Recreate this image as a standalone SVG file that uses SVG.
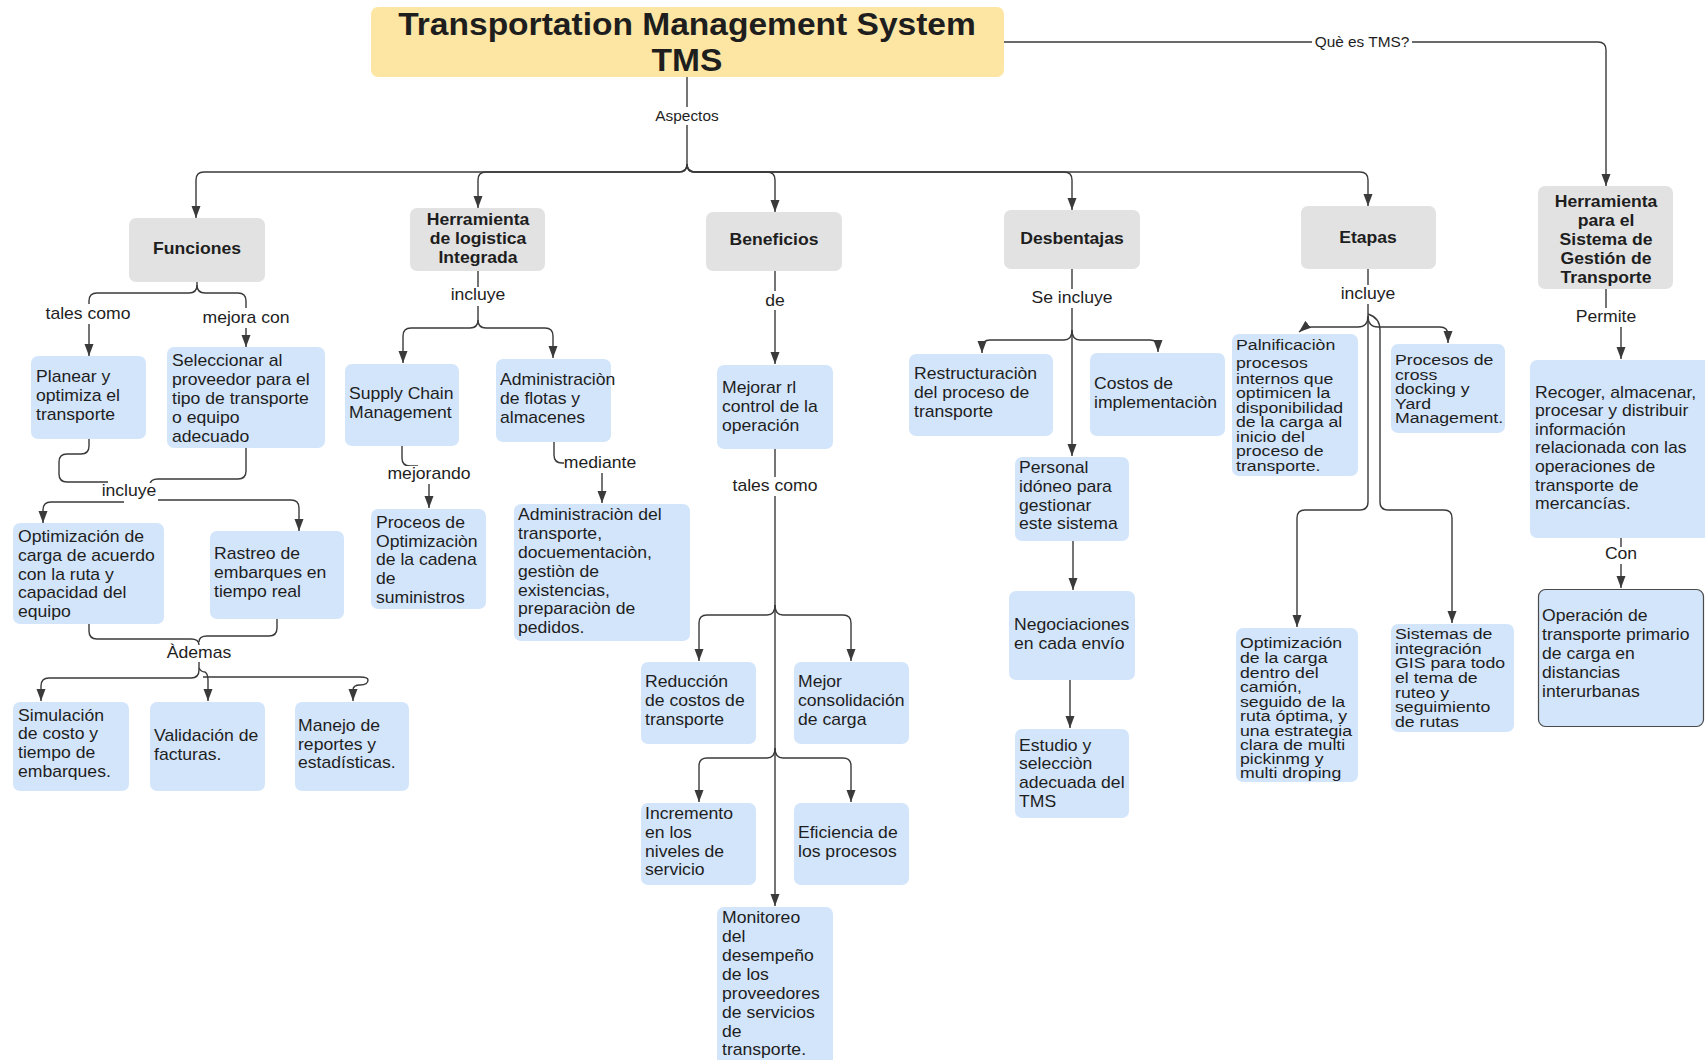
<svg xmlns="http://www.w3.org/2000/svg" width="1705" height="1060" viewBox="0 0 1705 1060">
  <defs>
    <marker id="arr" markerUnits="userSpaceOnUse" markerWidth="12" markerHeight="10" refX="12" refY="5" orient="auto">
      <path d="M0,0.5 L12,5 L0,9.5 z" fill="#3a3a3a"/>
    </marker>
    <style>
      .c { fill: none; stroke: #3a3a3a; stroke-width: 1.4; }
      .ca { fill: none; stroke: #3a3a3a; stroke-width: 1.4; marker-end: url(#arr); }
      .lb { fill: #ffffff; }
      .t { font-family: "Liberation Sans", Arial, sans-serif; font-size: 16px; fill: #1e1e1e; }
      .tt { font-family: "Liberation Sans", Arial, sans-serif; font-size: 15px; fill: #1e1e1e; }
      .ts { font-family: "Liberation Sans", Arial, sans-serif; font-size: 14px; fill: #1e1e1e; text-anchor: middle; }
      .tl { font-family: "Liberation Sans", Arial, sans-serif; font-size: 16px; fill: #1e1e1e; text-anchor: middle; }
      .tb { font-family: "Liberation Sans", Arial, sans-serif; font-size: 16px; font-weight: bold; fill: #1e1e1e; text-anchor: middle; }
      .title { font-family: "Liberation Sans", Arial, sans-serif; font-size: 30.5px; font-weight: bold; fill: #1e1e1e; text-anchor: middle; }
      .gray { fill: #e2e2e2; }
      .blue { fill: #d3e5fb; }
      .yellow { fill: #fde6a4; }
    </style>
  </defs>
  <rect width="1705" height="1060" fill="#ffffff"/>

  <!-- connectors -->
  <g id="connectors">
    <!-- main trunk to the five aspects -->
    <path class="c" d="M687,77 V164"/>
    <path class="ca" d="M687,164 Q687,172 679,172 H204 Q196,172 196,180 V218"/>
    <path class="ca" d="M687,164 Q687,172 679,172 H486 Q478,172 478,180 V208"/>
    <path class="ca" d="M687,164 Q687,172 695,172 H767 Q775,172 775,180 V212"/>
    <path class="ca" d="M687,164 Q687,172 695,172 H1064 Q1072,172 1072,180 V210"/>
    <path class="ca" d="M687,164 Q687,172 695,172 H1360 Q1368,172 1368,180 V206"/>
    <path class="ca" d="M1004,42 H1598 Q1606,42 1606,50 V186"/>

    <!-- Funciones -->
    <path class="ca" d="M197,282 V285 Q197,293 189,293 H97 Q89,293 89,301 V356"/>
    <path class="ca" d="M197,285 Q197,293 205,293 H238 Q246,293 246,301 V347"/>
    <path class="c" d="M89,439 V446 Q89,454 81,454 H67 Q59,454 59,462 V474 Q59,482 67,482 H108"/>
    <path class="c" d="M246,448 V471 Q246,479 238,479 H158 Q150,479 150,485"/>
    <path class="ca" d="M124,502 H51 Q43,502 43,510 V523"/>
    <path class="ca" d="M158,500 H291 Q299,500 299,508 V531"/>
    <path class="c" d="M89,624 V631 Q89,639 97,639 H191 Q199,639 199,645"/>
    <path class="c" d="M277,619 V628 Q277,636 269,636 H207 Q199,636 199,642"/>
    <path class="ca" d="M199,661 V670 Q199,678 191,678 H49 Q41,678 41,686 V701"/>
    <path class="ca" d="M199,668 Q201,672 205,672 Q208,674 208,680 V701"/>
    <path class="ca" d="M203,677 H360 Q368,677 368,680 Q368,685 360,685 Q353,685 353,690 V701"/>

    <!-- Herramienta de logistica -->
    <path class="ca" d="M478,271 V320 Q478,328 470,328 H411 Q403,328 403,336 V363"/>
    <path class="ca" d="M478,320 Q478,328 486,328 H545 Q553,328 553,336 V358"/>
    <path class="c" d="M402,446 V458 Q402,466 410,466 H418"/>
    <path class="ca" d="M429,484 V508"/>
    <path class="c" d="M554,442 V455 Q554,463 562,463 H568"/>
    <path class="ca" d="M602,473 V503"/>

    <!-- Beneficios -->
    <path class="ca" d="M775,271 V364"/>
    <path class="ca" d="M775,449 V906"/>
    <path class="ca" d="M775,605 Q775,615 767,615 H707 Q699,615 699,623 V661"/>
    <path class="ca" d="M775,605 Q775,615 783,615 H843 Q851,615 851,623 V661"/>
    <path class="ca" d="M775,748 Q775,758 767,758 H707 Q699,758 699,766 V802"/>
    <path class="ca" d="M775,748 Q775,758 783,758 H843 Q851,758 851,766 V802"/>

    <!-- Desbentajas -->
    <path class="ca" d="M1072,269 V456"/>
    <path class="ca" d="M1072,330 Q1072,340 1064,340 H990 Q982,340 982,348 V353"/>
    <path class="ca" d="M1072,330 Q1072,340 1080,340 H1150 Q1158,340 1158,348 V352"/>
    <path class="ca" d="M1073,541 V590"/>
    <path class="ca" d="M1070,680 V728"/>

    <!-- Etapas -->
    <path class="ca" d="M1368,269 V502 Q1368,510 1360,510 H1305 Q1297,510 1297,518 V627"/>
    <path class="ca" d="M1368,316 Q1368,327 1358,327 H1312 Q1305,327 1299,332"/>
    <path class="ca" d="M1368,316 Q1368,327 1378,327 H1440 Q1448,327 1448,335 V343"/>
    <path class="ca" d="M1368,314 Q1380,318 1380,330 V502 Q1380,510 1388,510 H1444 Q1452,510 1452,518 V623"/>

    <!-- Herramienta para el Sistema -->
    <path class="c" d="M1606,289 V310"/>
    <path class="ca" d="M1621,327 V359"/>
    <path class="c" d="M1621,538 V548"/>
    <path class="ca" d="M1621,564 V588"/>

    <!-- connector labels -->
    <g id="connector-labels">
      <rect class="lb" x="653" y="107" width="68" height="18"/>
      <text class="ts" transform="matrix(1.1 0 0 1 687 0)" y="121">Aspectos</text>
      <rect class="lb" x="1312" y="33" width="100" height="18"/>
      <text class="ts" transform="matrix(1.1 0 0 1 1362 0)" y="47">Què es TMS?</text>

      <rect class="lb" x="44" y="304" width="89" height="20"/>
      <text class="tl" transform="matrix(1.1 0 0 1 88 0)" y="319">tales como</text>
      <rect class="lb" x="201" y="308" width="91" height="20"/>
      <text class="tl" transform="matrix(1.1 0 0 1 246 0)" y="323">mejora con</text>
      <rect class="lb" x="100" y="483" width="58" height="16"/>
      <text class="tl" transform="matrix(1.1 0 0 1 129 0)" y="496">incluye</text>
      <rect class="lb" x="166" y="645" width="67" height="17"/>
      <text class="tl" transform="matrix(1.1 0 0 1 199 0)" y="658">Àdemas</text>

      <rect class="lb" x="449" y="287" width="58" height="19"/>
      <text class="tl" transform="matrix(1.1 0 0 1 478 0)" y="300">incluye</text>
      <rect class="lb" x="386" y="466" width="86" height="18"/>
      <text class="tl" transform="matrix(1.1 0 0 1 429 0)" y="479">mejorando</text>
      <rect class="lb" x="564" y="455" width="75" height="18"/>
      <text class="tl" transform="matrix(1.1 0 0 1 600 0)" y="468">mediante</text>

      <rect class="lb" x="763" y="291" width="24" height="19"/>
      <text class="tl" transform="matrix(1.1 0 0 1 775 0)" y="306">de</text>
      <rect class="lb" x="731" y="477" width="88" height="19"/>
      <text class="tl" transform="matrix(1.1 0 0 1 775 0)" y="491">tales como</text>

      <rect class="lb" x="1030" y="289" width="84" height="19"/>
      <text class="tl" transform="matrix(1.1 0 0 1 1072 0)" y="303">Se incluye</text>
      <rect class="lb" x="1339" y="285" width="58" height="19"/>
      <text class="tl" transform="matrix(1.1 0 0 1 1368 0)" y="299">incluye</text>

      <rect class="lb" x="1574" y="308" width="64" height="18"/>
      <text class="tl" transform="matrix(1.1 0 0 1 1606 0)" y="322">Permite</text>
      <rect class="lb" x="1603" y="547" width="36" height="17"/>
      <text class="tl" transform="matrix(1.1 0 0 1 1621 0)" y="559">Con</text>
    </g>
  </g>

  <!-- root -->
  <g id="tms">
    <rect class="yellow" x="371" y="7" width="633" height="70" rx="7"/>
    <text class="title" transform="matrix(1.1 0 0 1 687 0)"><tspan x="0" y="35">Transportation Management System</tspan><tspan x="0" y="71">TMS</tspan></text>
  </g>

  <!-- aspects -->
  <g id="funciones">
    <rect class="gray" x="129" y="218" width="136" height="64" rx="7"/>
    <text class="tb" transform="matrix(1.1 0 0 1 197 0)" y="254">Funciones</text>
  </g>
  <g id="herramienta-logistica">
    <rect class="gray" x="410" y="208" width="135" height="63" rx="7"/>
    <text class="tb" transform="matrix(1.1 0 0 1 478 0)"><tspan x="0" y="225">Herramienta</tspan><tspan x="0" y="244">de logistica</tspan><tspan x="0" y="263">Integrada</tspan></text>
  </g>
  <g id="beneficios">
    <rect class="gray" x="706" y="212" width="136" height="59" rx="7"/>
    <text class="tb" transform="matrix(1.1 0 0 1 774 0)" y="245">Beneficios</text>
  </g>
  <g id="desbentajas">
    <rect class="gray" x="1004" y="210" width="136" height="59" rx="7"/>
    <text class="tb" transform="matrix(1.1 0 0 1 1072 0)" y="244">Desbentajas</text>
  </g>
  <g id="etapas">
    <rect class="gray" x="1301" y="206" width="135" height="63" rx="7"/>
    <text class="tb" transform="matrix(1.1 0 0 1 1368 0)" y="243">Etapas</text>
  </g>
  <g id="herramienta-sistema">
    <rect class="gray" x="1538" y="186" width="135" height="103" rx="7"/>
    <text class="tb" transform="matrix(1.1 0 0 1 1606 0)"><tspan x="0" y="207">Herramienta</tspan><tspan x="0" y="226">para el</tspan><tspan x="0" y="245">Sistema de</tspan><tspan x="0" y="264">Gestión de</tspan><tspan x="0" y="283">Transporte</tspan></text>
  </g>

  <!-- Funciones branch -->
  <g id="planear">
    <rect class="blue" x="31" y="356" width="115" height="83" rx="7"/>
    <text class="t" transform="matrix(1.1 0 0 1 36 0)"><tspan x="0" y="382">Planear y</tspan><tspan x="0" y="401">optimiza el</tspan><tspan x="0" y="420">transporte</tspan></text>
  </g>
  <g id="seleccionar">
    <rect class="blue" x="167" y="347" width="158" height="101" rx="7"/>
    <text class="t" transform="matrix(1.1 0 0 1 172 0)"><tspan x="0" y="366">Seleccionar al</tspan><tspan x="0" y="385">proveedor para el</tspan><tspan x="0" y="404">tipo de transporte</tspan><tspan x="0" y="423">o equipo</tspan><tspan x="0" y="442">adecuado</tspan></text>
  </g>
  <g id="optimizacion-carga">
    <rect class="blue" x="13" y="523" width="151" height="101" rx="7"/>
    <text class="t" transform="matrix(1.1 0 0 1 18 0)"><tspan x="0" y="542">Optimización de</tspan><tspan x="0" y="561">carga de acuerdo</tspan><tspan x="0" y="580">con la ruta y</tspan><tspan x="0" y="598">capacidad del</tspan><tspan x="0" y="617">equipo</tspan></text>
  </g>
  <g id="rastreo">
    <rect class="blue" x="210" y="531" width="134" height="88" rx="7"/>
    <text class="t" transform="matrix(1.1 0 0 1 214 0)"><tspan x="0" y="559">Rastreo de</tspan><tspan x="0" y="578">embarques en</tspan><tspan x="0" y="597">tiempo real</tspan></text>
  </g>
  <g id="simulacion">
    <rect class="blue" x="13" y="702" width="116" height="89" rx="7"/>
    <text class="t" transform="matrix(1.1 0 0 1 18 0)"><tspan x="0" y="721">Simulación</tspan><tspan x="0" y="739">de costo y</tspan><tspan x="0" y="758">tiempo de</tspan><tspan x="0" y="777">embarques.</tspan></text>
  </g>
  <g id="validacion">
    <rect class="blue" x="150" y="702" width="115" height="89" rx="7"/>
    <text class="t" transform="matrix(1.1 0 0 1 154 0)"><tspan x="0" y="741">Validación de</tspan><tspan x="0" y="760">facturas.</tspan></text>
  </g>
  <g id="manejo">
    <rect class="blue" x="295" y="702" width="114" height="89" rx="7"/>
    <text class="t" transform="matrix(1.1 0 0 1 298 0)"><tspan x="0" y="731">Manejo de</tspan><tspan x="0" y="750">reportes y</tspan><tspan x="0" y="768">estadísticas.</tspan></text>
  </g>

  <!-- Herramienta de logistica branch -->
  <g id="supply-chain">
    <rect class="blue" x="345" y="364" width="114" height="82" rx="7"/>
    <text class="t" transform="matrix(1.1 0 0 1 349 0)"><tspan x="0" y="399">Supply Chain</tspan><tspan x="0" y="418">Management</tspan></text>
  </g>
  <g id="administracion-flotas">
    <rect class="blue" x="496" y="359" width="115" height="83" rx="7"/>
    <text class="t" transform="matrix(1.1 0 0 1 500 0)"><tspan x="0" y="385">Administraciòn</tspan><tspan x="0" y="404">de flotas y</tspan><tspan x="0" y="423">almacenes</tspan></text>
  </g>
  <g id="proceos-optimizacion">
    <rect class="blue" x="371" y="509" width="115" height="100" rx="7"/>
    <text class="t" transform="matrix(1.1 0 0 1 376 0)"><tspan x="0" y="528">Proceos de</tspan><tspan x="0" y="547">Optimizaciòn</tspan><tspan x="0" y="565">de la cadena</tspan><tspan x="0" y="584">de</tspan><tspan x="0" y="603">suministros</tspan></text>
  </g>
  <g id="administracion-transporte">
    <rect class="blue" x="514" y="504" width="176" height="137" rx="7"/>
    <text class="t" transform="matrix(1.1 0 0 1 518 0)"><tspan x="0" y="520">Administraciòn del</tspan><tspan x="0" y="539">transporte,</tspan><tspan x="0" y="558">docuementaciòn,</tspan><tspan x="0" y="577">gestiòn de</tspan><tspan x="0" y="596">existencias,</tspan><tspan x="0" y="614">preparaciòn de</tspan><tspan x="0" y="633">pedidos.</tspan></text>
  </g>

  <!-- Beneficios branch -->
  <g id="mejorar-control">
    <rect class="blue" x="717" y="365" width="116" height="84" rx="7"/>
    <text class="t" transform="matrix(1.1 0 0 1 722 0)"><tspan x="0" y="393">Mejorar rl</tspan><tspan x="0" y="412">control de la</tspan><tspan x="0" y="431">operación</tspan></text>
  </g>
  <g id="reduccion-costos">
    <rect class="blue" x="641" y="662" width="115" height="82" rx="7"/>
    <text class="t" transform="matrix(1.1 0 0 1 645 0)"><tspan x="0" y="687">Reducción</tspan><tspan x="0" y="706">de costos de</tspan><tspan x="0" y="725">transporte</tspan></text>
  </g>
  <g id="mejor-consolidacion">
    <rect class="blue" x="794" y="662" width="115" height="82" rx="7"/>
    <text class="t" transform="matrix(1.1 0 0 1 798 0)"><tspan x="0" y="687">Mejor</tspan><tspan x="0" y="706">consolidación</tspan><tspan x="0" y="725">de carga</tspan></text>
  </g>
  <g id="incremento">
    <rect class="blue" x="641" y="803" width="115" height="82" rx="7"/>
    <text class="t" transform="matrix(1.1 0 0 1 645 0)"><tspan x="0" y="819">Incremento</tspan><tspan x="0" y="838">en los</tspan><tspan x="0" y="857">niveles de</tspan><tspan x="0" y="875">servicio</tspan></text>
  </g>
  <g id="eficiencia">
    <rect class="blue" x="794" y="803" width="115" height="82" rx="7"/>
    <text class="t" transform="matrix(1.1 0 0 1 798 0)"><tspan x="0" y="838">Eficiencia de</tspan><tspan x="0" y="857">los procesos</tspan></text>
  </g>
  <g id="monitoreo">
    <rect class="blue" x="717" y="907" width="116" height="160" rx="7"/>
    <text class="t" transform="matrix(1.1 0 0 1 722 0)"><tspan x="0" y="923">Monitoreo</tspan><tspan x="0" y="942">del</tspan><tspan x="0" y="961">desempeño</tspan><tspan x="0" y="980">de los</tspan><tspan x="0" y="999">proveedores</tspan><tspan x="0" y="1018">de servicios</tspan><tspan x="0" y="1037">de</tspan><tspan x="0" y="1055">transporte.</tspan></text>
  </g>

  <!-- Desbentajas branch -->
  <g id="restructuracion">
    <rect class="blue" x="909" y="354" width="144" height="82" rx="7"/>
    <text class="t" transform="matrix(1.1 0 0 1 914 0)"><tspan x="0" y="379">Restructuraciòn</tspan><tspan x="0" y="398">del proceso de</tspan><tspan x="0" y="417">transporte</tspan></text>
  </g>
  <g id="costos-implementacion">
    <rect class="blue" x="1090" y="353" width="135" height="83" rx="7"/>
    <text class="t" transform="matrix(1.1 0 0 1 1094 0)"><tspan x="0" y="389">Costos de</tspan><tspan x="0" y="408">implementaciòn</tspan></text>
  </g>
  <g id="personal">
    <rect class="blue" x="1015" y="457" width="114" height="84" rx="7"/>
    <text class="t" transform="matrix(1.1 0 0 1 1019 0)"><tspan x="0" y="473">Personal</tspan><tspan x="0" y="492">idóneo para</tspan><tspan x="0" y="511">gestionar</tspan><tspan x="0" y="529">este sistema</tspan></text>
  </g>
  <g id="negociaciones">
    <rect class="blue" x="1009" y="591" width="126" height="89" rx="7"/>
    <text class="t" transform="matrix(1.1 0 0 1 1014 0)"><tspan x="0" y="630">Negociaciones</tspan><tspan x="0" y="649">en cada envío</tspan></text>
  </g>
  <g id="estudio">
    <rect class="blue" x="1015" y="729" width="114" height="89" rx="7"/>
    <text class="t" transform="matrix(1.1 0 0 1 1019 0)"><tspan x="0" y="751">Estudio y</tspan><tspan x="0" y="769">selecciòn</tspan><tspan x="0" y="788">adecuada del</tspan><tspan x="0" y="807">TMS</tspan></text>
  </g>

  <!-- Etapas branch: these boxes set their lines tightly -->
  <g id="planificacion">
    <rect class="blue" x="1232" y="334" width="126" height="142" rx="7"/>
    <text class="tt" transform="matrix(1.18 0 0 1 1236 0)"><tspan x="0" y="350">Palnificaciòn</tspan><tspan x="0" y="368">procesos</tspan><tspan x="0" y="384">internos que</tspan><tspan x="0" y="398">optimicen la</tspan><tspan x="0" y="413">disponibilidad</tspan><tspan x="0" y="427">de la carga al</tspan><tspan x="0" y="442">inicio del</tspan><tspan x="0" y="456">proceso de</tspan><tspan x="0" y="471">transporte.</tspan></text>
  </g>
  <g id="cross-docking">
    <rect class="blue" x="1391" y="344" width="114" height="89" rx="7"/>
    <text class="tt" transform="matrix(1.18 0 0 1 1395 0)"><tspan x="0" y="365">Procesos de</tspan><tspan x="0" y="380">cross</tspan><tspan x="0" y="394">docking y</tspan><tspan x="0" y="409">Yard</tspan><tspan x="0" y="423">Management.</tspan></text>
  </g>
  <g id="optimizacion-camion">
    <rect class="blue" x="1236" y="628" width="122" height="154" rx="7"/>
    <text class="tt" transform="matrix(1.18 0 0 1 1240 0)"><tspan x="0" y="648">Optimización</tspan><tspan x="0" y="663">de la carga</tspan><tspan x="0" y="678">dentro del</tspan><tspan x="0" y="692">camión,</tspan><tspan x="0" y="707">seguido de la</tspan><tspan x="0" y="721">ruta óptima, y</tspan><tspan x="0" y="736">una estrategia</tspan><tspan x="0" y="750">clara de multi</tspan><tspan x="0" y="764">pickinmg y</tspan><tspan x="0" y="778">multi droping</tspan></text>
  </g>
  <g id="sistemas-gis">
    <rect class="blue" x="1391" y="624" width="123" height="108" rx="7"/>
    <text class="tt" transform="matrix(1.18 0 0 1 1395 0)"><tspan x="0" y="639">Sistemas de</tspan><tspan x="0" y="654">integración</tspan><tspan x="0" y="668">GIS para todo</tspan><tspan x="0" y="683">el tema de</tspan><tspan x="0" y="698">ruteo y</tspan><tspan x="0" y="712">seguimiento</tspan><tspan x="0" y="727">de rutas</tspan></text>
  </g>

  <!-- Herramienta para el Sistema branch -->
  <g id="recoger">
    <rect class="blue" x="1530" y="360" width="185" height="178" rx="7"/>
    <text class="t" transform="matrix(1.1 0 0 1 1535 0)"><tspan x="0" y="398">Recoger, almacenar,</tspan><tspan x="0" y="416">procesar y distribuir</tspan><tspan x="0" y="435">información</tspan><tspan x="0" y="453">relacionada con las</tspan><tspan x="0" y="472">operaciones de</tspan><tspan x="0" y="491">transporte de</tspan><tspan x="0" y="509">mercancías.</tspan></text>
  </g>
  <g id="operacion">
    <rect class="blue" x="1538.5" y="589.5" width="165" height="137" rx="7" stroke="#4a4a4a" stroke-width="1.2"/>
    <text class="t" transform="matrix(1.1 0 0 1 1542 0)"><tspan x="0" y="621">Operación de</tspan><tspan x="0" y="640">transporte primario</tspan><tspan x="0" y="659">de carga en</tspan><tspan x="0" y="678">distancias</tspan><tspan x="0" y="697">interurbanas</tspan></text>
  </g>
</svg>
